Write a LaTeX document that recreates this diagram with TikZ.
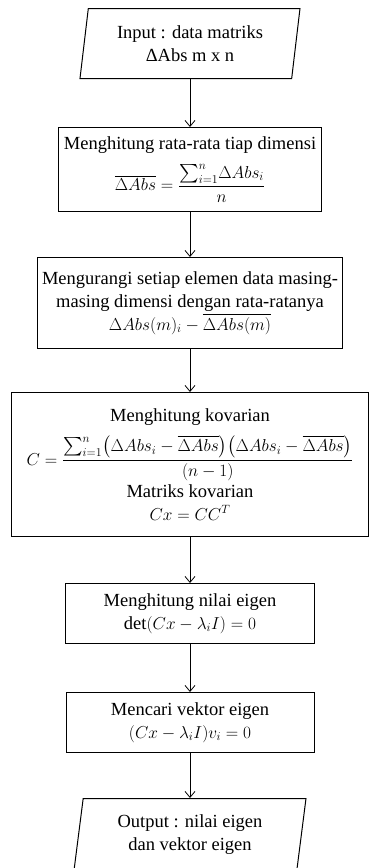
\documentclass[tikz,border=0pt]{standalone}
\usepackage{amsmath,amssymb}
\usepackage{fontspec}
\setmainfont{Liberation Serif}
\usetikzlibrary{arrows.meta,shapes.geometric}

\tikzset{
  proses/.style={draw, rectangle, line width=1pt, align=center, inner sep=1pt,
    anchor=north, font=\fontsize{18.5}{23}\selectfont},
  inout/.style={draw, trapezium, trapezium left angle=77, trapezium right angle=103,
    trapezium stretches body, line width=1pt, align=center, inner sep=0pt,
    anchor=north, font=\fontsize{18.5}{23}\selectfont},
  panah/.style={-{Straight Barb[length=6pt,width=10pt]}, line width=0.8pt}
}

\begin{document}
\begin{tikzpicture}[x=1pt,y=-1pt]
  \useasboundingbox (0,0) rectangle (369,868);
  % input dan output
  \node[inout, minimum width=220pt, minimum height=70pt] (input) at (190,8)
    {Input : data matriks\\ΔAbs m x n};
  \node[inout, minimum width=232pt, minimum height=72pt] (output) at (190,798)
    {Output : nilai eigen\\dan vektor eigen};
  % langkah-langkah
  \node[proses, minimum width=263pt, minimum height=84pt] (rata) at (190,127)
    {Menghitung rata-rata tiap dimensi\\[10pt]
     $\overline{\Delta Abs} = \dfrac{{\textstyle\sum_{i=1}^{n}}\Delta Abs_i}{n}$};
  \node[proses, minimum width=305pt, minimum height=91pt] (kurang) at (190,257)
    {Mengurangi setiap elemen data masing-\\masing dimensi dengan rata-ratanya\\
     $\Delta Abs(m)_i - \overline{\Delta Abs(m)}$};
  \node[proses, minimum width=357pt, minimum height=144pt] (kovarian) at (190,392)
    {Menghitung kovarian\\[9pt]
     $C = \dfrac{{\textstyle\sum_{i=1}^{n}}\bigl(\Delta Abs_i - \overline{\Delta Abs}\bigr)\bigl(\Delta Abs_i - \overline{\Delta Abs}\bigr)}{(n-1)}$\\[2pt]
     Matriks kovarian\\
     $Cx = CC^T$};
  \node[proses, minimum width=249pt, minimum height=60pt] (nilai) at (190,583)
    {Menghitung nilai eigen\\$\det(Cx - \lambda_i I) = 0$};
  \node[proses, minimum width=248pt, minimum height=60pt] (vektor) at (190,692)
    {Mencari vektor eigen\\$(Cx - \lambda_i I)v_i = 0$};
  % panah
  \draw[panah] (input.south) -- (rata.north);
  \draw[panah] (rata.south) -- (kurang.north);
  \draw[panah] (kurang.south) -- (kovarian.north);
  \draw[panah] (kovarian.south) -- (nilai.north);
  \draw[panah] (nilai.south) -- (vektor.north);
  \draw[panah] (vektor.south) -- (output.north);
\end{tikzpicture}
\end{document}
